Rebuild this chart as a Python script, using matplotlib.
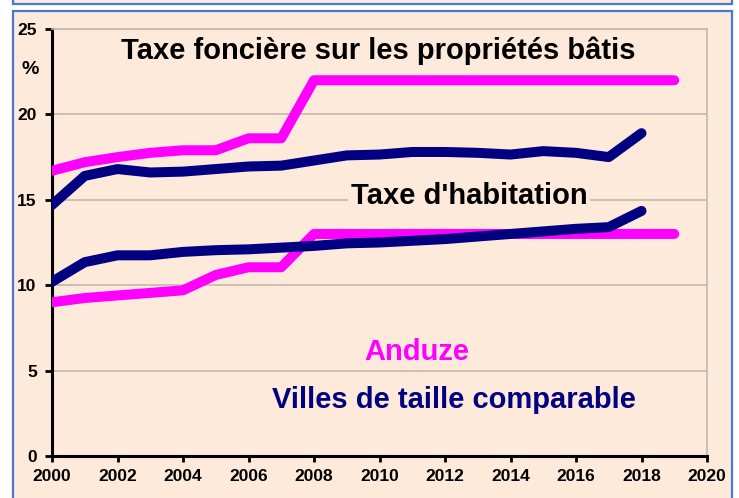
import numpy as np
import matplotlib.pyplot as plt
from matplotlib.patches import Rectangle

plt.rcParams['font.family'] = ['Liberation Sans', 'DejaVu Sans']

years = list(range(2000, 2020))
# Taxe fonciere sur les proprietes baties
anduze_tfpb = [16.7, 17.2, 17.5, 17.75, 17.9, 17.9, 18.6, 18.6, 22.0, 22.0,
               22.0, 22.0, 22.0, 22.0, 22.0, 22.0, 22.0, 22.0, 22.0, 22.0]
villes_tfpb = [14.7, 16.4, 16.8, 16.6, 16.65, 16.8, 16.95, 17.0, 17.3, 17.6,
               17.65, 17.8, 17.8, 17.75, 17.65, 17.85, 17.75, 17.5, 18.9]
# Taxe d'habitation
anduze_th = [9.0, 9.25, 9.4, 9.55, 9.7, 10.6, 11.05, 11.05, 13.0, 13.0,
             13.0, 13.0, 13.0, 13.0, 13.0, 13.0, 13.0, 13.0, 13.0, 13.0]
villes_th = [10.2, 11.35, 11.75, 11.75, 11.95, 12.05, 12.1, 12.2, 12.3, 12.45,
             12.5, 12.6, 12.7, 12.85, 13.0, 13.15, 13.3, 13.4, 14.35]

pink = '#ff00ff'
navy = '#000080'
bg = '#fdeadb'
W, H = 739, 498

fig = plt.figure(figsize=(W / 100, H / 100), dpi=100)
fig.patch.set_facecolor('white')

# outer boxes
fig.patches.append(Rectangle((13 / W, -0.05), 719 / W, (H - 11) / H + 0.05,
                             transform=fig.transFigure, facecolor=bg,
                             edgecolor='#4a78d0', linewidth=1.6, zorder=-2))
fig.patches.append(Rectangle((13 / W, (H - 4) / H), 719 / W, 0.1,
                             transform=fig.transFigure, facecolor=bg,
                             edgecolor='#4a78d0', linewidth=1.6, zorder=-2))

ax = fig.add_axes([52 / W, 42 / H, (707 - 52) / W, (456 - 29) / H])
ax.set_facecolor(bg)

lw = 7.2
ax.plot(years, anduze_tfpb, color=pink, lw=lw, solid_capstyle='round', zorder=3)
ax.plot(years, anduze_th, color=pink, lw=lw, solid_capstyle='round', zorder=3)
ax.plot(years[:19], villes_tfpb, color=navy, lw=lw, solid_capstyle='round', zorder=4)
ax.plot(years[:19], villes_th, color=navy, lw=lw, solid_capstyle='round', zorder=4)

ax.set_xlim(2000, 2020)
ax.set_ylim(0, 25)
ax.set_xticks(range(2000, 2021, 2))
ax.set_yticks(range(0, 26, 5))
ax.yaxis.grid(True, color='#c0b8b0', lw=1.2)
ax.set_axisbelow(True)

for s in ['top', 'right']:
    ax.spines[s].set_color('#c0b8b0')
    ax.spines[s].set_linewidth(1.2)
for s in ['left', 'bottom']:
    ax.spines[s].set_color('black')
    ax.spines[s].set_linewidth(2.2)

ax.tick_params(axis='y', direction='out', length=5, width=2, pad=6)
ax.tick_params(axis='x', direction='out', length=4, width=2, pad=5)
for lab in ax.get_xticklabels() + ax.get_yticklabels():
    lab.set_fontweight('bold')
    lab.set_fontsize(12.5)

fs = 21
ax.text(2009.95, 23.75, 'Taxe foncière sur les propriétés bâtis', fontsize=fs,
        fontweight='bold', ha='center', va='center', color='black', zorder=5)
ax.text(2012.73, 15.2, "Taxe d'habitation", fontsize=fs, fontweight='bold',
        ha='center', va='center', color='black', zorder=5,
        bbox=dict(facecolor=bg, edgecolor='none', pad=2))
ax.text(2011.13, 6.1, 'Anduze', fontsize=fs, fontweight='bold',
        ha='center', va='center', color=pink, zorder=5)
ax.text(2012.26, 3.3, 'Villes de taille comparable', fontsize=fs, fontweight='bold',
        ha='center', va='center', color=navy, zorder=5)

fig.text(30 / W, 1 - 70 / H, '%', fontsize=14, fontweight='bold',
         ha='center', va='center')

fig.savefig('out.png', dpi=100, facecolor=fig.get_facecolor())
